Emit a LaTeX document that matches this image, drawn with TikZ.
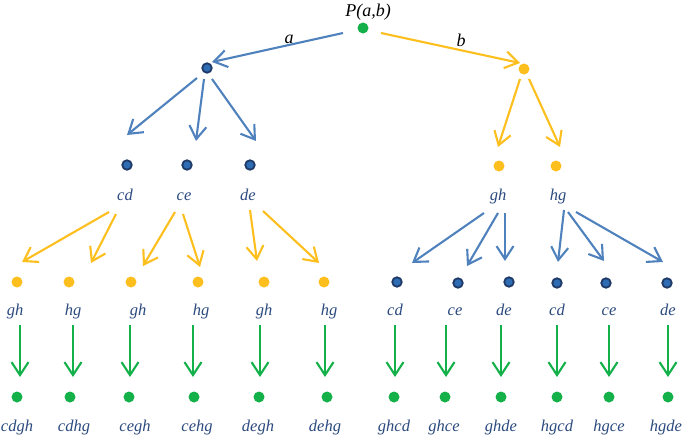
\documentclass[tikz,border=0pt]{standalone}
\usepackage{fontspec}
\setmainfont{Liberation Serif}
\usetikzlibrary{arrows.meta}
\definecolor{cblue}{HTML}{4F81BD}
\definecolor{cyel}{HTML}{FDBF1E}
\definecolor{cgreen}{HTML}{14B14B}
\definecolor{cnavy}{HTML}{1F3A66}
\definecolor{cdotb}{HTML}{2E6DB4}
\definecolor{ctext}{HTML}{2B4A7E}
\tikzset{
  gdot/.style={circle,fill=cgreen,inner sep=0pt,minimum size=11pt},
  ydot/.style={circle,fill=cyel,inner sep=0pt,minimum size=11pt},
  bdot/.style={circle,fill=cdotb,draw=cnavy,line width=1.8pt,inner sep=0pt,minimum size=9.5pt},
  lab/.style={font=\fontsize{16.5}{18}\selectfont\itshape,text=ctext,inner sep=0pt,text height=0.7em,text depth=0.2em},
  blab/.style={font=\fontsize{18}{20}\selectfont\itshape,text=black,inner sep=0pt},
  arr/.style={line width=2.1pt,-{Straight Barb[length=13pt,width=17pt,line width=2.1pt]}},
  barr/.style={arr,draw=cblue},
  yarr/.style={arr,draw=cyel},
  garr/.style={arr,draw=cgreen},
}
\begin{document}
\begin{tikzpicture}[x=1pt,y=-1pt]
\useasboundingbox (0,0) rectangle (685,439);
% root
\node[gdot] (root) at (363,28) {};
\node[blab] (P) at (368,12) {P(a,b)};
% level 1
\node[bdot] (L1) at (207,68) {};
\node[ydot] (R1) at (524,69) {};
\node[blab] (la) at (289,39) {a};
\node[blab] (lb) at (461,40) {b};
% level 2 dots
\node[bdot] (cdD) at (127,165) {};
\node[bdot] (ceD) at (187,165) {};
\node[bdot] (deD) at (250,165) {};
\node[ydot] (ghD) at (499,166) {};
\node[ydot] (hgD) at (556,166) {};
% level 2 labels
\node[lab] (cdL) at (125,198) {cd};
\node[lab] (ceL) at (184,198) {ce};
\node[lab] (deL) at (248,198) {de};
\node[lab] (ghL) at (498,198) {gh};
\node[lab] (hgL) at (558,198) {hg};
% level 3 dots
\node[ydot] (Y1) at (17,282) {};
\node[ydot] (Y2) at (69,282) {};
\node[ydot] (Y3) at (131,282) {};
\node[ydot] (Y4) at (198,282) {};
\node[ydot] (Y5) at (264,282) {};
\node[ydot] (Y6) at (324,282) {};
\node[bdot] (B1) at (397,282) {};
\node[bdot] (B2) at (458,283) {};
\node[bdot] (B3) at (509,282) {};
\node[bdot] (B4) at (557,283) {};
\node[bdot] (B5) at (606,283) {};
\node[bdot] (B6) at (667,283) {};
% level 3 labels
\node[lab] (Y1L) at (15,313) {gh};
\node[lab] (Y2L) at (73,313) {hg};
\node[lab] (Y3L) at (138,313) {gh};
\node[lab] (Y4L) at (201,313) {hg};
\node[lab] (Y5L) at (264,313) {gh};
\node[lab] (Y6L) at (329,313) {hg};
\node[lab] (B1L) at (395,313) {cd};
\node[lab] (B2L) at (455,313) {ce};
\node[lab] (B3L) at (504,313) {de};
\node[lab] (B4L) at (557,313) {cd};
\node[lab] (B5L) at (609,313) {ce};
\node[lab] (B6L) at (668,313) {de};
% level 4 dots
\node[gdot] (G1) at (17,397) {};
\node[gdot] (G2) at (70,397) {};
\node[gdot] (G3) at (129,397) {};
\node[gdot] (G4) at (194,397) {};
\node[gdot] (G5) at (259,397) {};
\node[gdot] (G6) at (327,397) {};
\node[gdot] (G7) at (394,397) {};
\node[gdot] (G8) at (445,397) {};
\node[gdot] (G9) at (501,397) {};
\node[gdot] (G10) at (557,397) {};
\node[gdot] (G11) at (609,397) {};
\node[gdot] (G12) at (668,397) {};
% level 4 labels
\node[lab] (G1L) at (17,429) {cdgh};
\node[lab] (G2L) at (74,429) {cdhg};
\node[lab] (G3L) at (135,429) {cegh};
\node[lab] (G4L) at (197,429) {cehg};
\node[lab] (G5L) at (258,429) {degh};
\node[lab] (G6L) at (325,429) {dehg};
\node[lab] (G7L) at (394,429) {ghcd};
\node[lab] (G8L) at (444,429) {ghce};
\node[lab] (G9L) at (501,429) {ghde};
\node[lab] (G10L) at (557,429) {hgcd};
\node[lab] (G11L) at (609,429) {hgce};
\node[lab] (G12L) at (666,429) {hgde};
% arrows root
\draw[barr] ([shift={(-20,5)}]root.center) -- ([shift={(5,-6)}]L1.center);
\draw[yarr] ([shift={(18,5)}]root.center) -- ([shift={(-4,-6)}]R1.center);
% L1 -> level 2
\draw[barr] ([shift={(-10,10)}]L1.center) -- ([shift={(0,-30)}]cdD.center);
\draw[barr] ([shift={(-3,11)}]L1.center) -- ([shift={(9,-24)}]ceD.center);
\draw[barr] ([shift={(5,11)}]L1.center) -- ([shift={(6,-24)}]deD.center);
% R1 -> level 2
\draw[yarr] ([shift={(-4,10)}]R1.center) -- ([shift={(-1,-19)}]ghD.center);
\draw[yarr] ([shift={(5,10)}]R1.center) -- ([shift={(4,-19)}]hgD.center);
% level 2 -> level 3
\draw[yarr] ([shift={(-16,14)}]cdL.center) -- ([shift={(5,-20)}]Y1.center);
\draw[yarr] ([shift={(-9,16)}]cdL.center) -- ([shift={(22,-19)}]Y2.center);
\draw[yarr] ([shift={(-9,14)}]ceL.center) -- ([shift={(12,-16)}]Y3.center);
\draw[yarr] ([shift={(-1,16)}]ceL.center) -- ([shift={(2,-15)}]Y4.center);
\draw[yarr] ([shift={(2,12)}]deL.center) -- ([shift={(-7,-21)}]Y5.center);
\draw[yarr] ([shift={(15,13)}]deL.center) -- ([shift={(-5,-19)}]Y6.center);
\draw[barr] ([shift={(-14,15)}]ghL.center) -- ([shift={(15,-19)}]B1.center);
\draw[barr] ([shift={(0,15)}]ghL.center) -- ([shift={(9,-17)}]B2.center);
\draw[barr] ([shift={(7,15)}]ghL.center) -- ([shift={(-4,-21)}]B3.center);
\draw[barr] ([shift={(6,12)}]hgL.center) -- ([shift={(1,-21)}]B4.center);
\draw[barr] ([shift={(10,14)}]hgL.center) -- ([shift={(-2,-22)}]B5.center);
\draw[barr] ([shift={(18,14)}]hgL.center) -- ([shift={(-4,-21)}]B6.center);
% level 3 -> level 4
\draw[garr] ([shift={(5,12)}]Y1L.center) -- ([shift={(3,-20)}]G1.center);
\draw[garr] ([shift={(0,12)}]Y2L.center) -- ([shift={(3,-20)}]G2.center);
\draw[garr] ([shift={(-8,12)}]Y3L.center) -- ([shift={(1,-20)}]G3.center);
\draw[garr] ([shift={(-8,12)}]Y4L.center) -- ([shift={(-1,-20)}]G4.center);
\draw[garr] ([shift={(-4,12)}]Y5L.center) -- ([shift={(1,-20)}]G5.center);
\draw[garr] ([shift={(-4,12)}]Y6L.center) -- ([shift={(-2,-20)}]G6.center);
\draw[garr] ([shift={(0,12)}]B1L.center) -- ([shift={(1,-20)}]G7.center);
\draw[garr] ([shift={(-9,12)}]B2L.center) -- ([shift={(1,-20)}]G8.center);
\draw[garr] ([shift={(-3,12)}]B3L.center) -- ([shift={(0,-20)}]G9.center);
\draw[garr] ([shift={(0,12)}]B4L.center) -- ([shift={(0,-20)}]G10.center);
\draw[garr] ([shift={(0,12)}]B5L.center) -- ([shift={(0,-20)}]G11.center);
\draw[garr] ([shift={(0,12)}]B6L.center) -- ([shift={(0,-20)}]G12.center);
\end{tikzpicture}
\end{document}
